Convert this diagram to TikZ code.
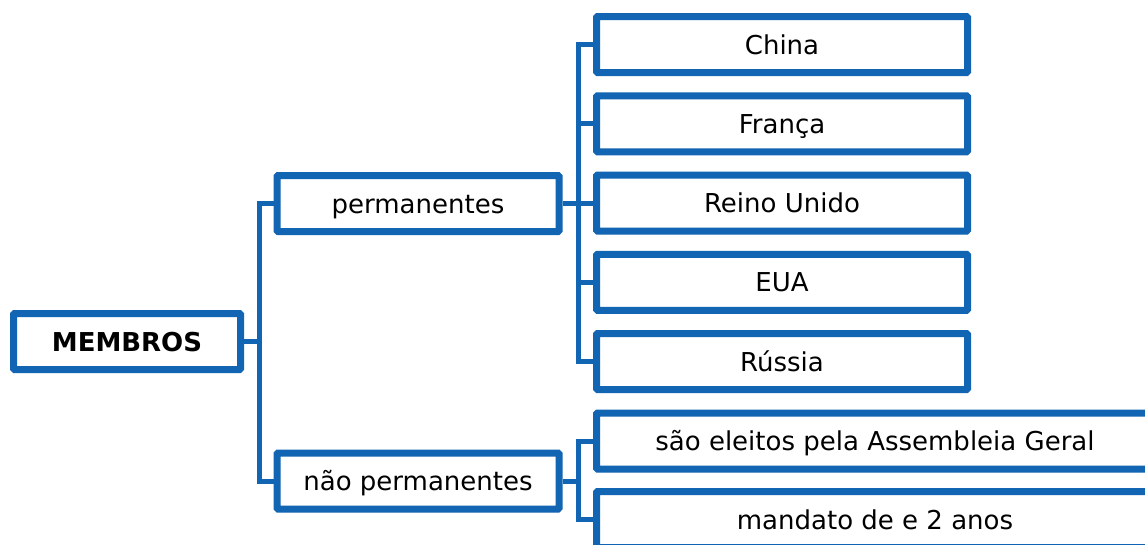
\documentclass[tikz,border=0pt]{standalone}
\usepackage{fontspec}
\setmainfont{DejaVu Sans}
\usetikzlibrary{positioning,shadows}
\definecolor{azul}{RGB}{17,101,178}

\begin{document}
\begin{tikzpicture}[x=1pt, y=-1pt,
	caixa/.style={draw=azul, line width=7pt, fill=white, rounded corners=1pt, inner sep=0pt, minimum height=56pt, text height=19pt, text depth=0pt, font=\fontsize{26}{30}\selectfont, drop shadow={shadow xshift=2pt, shadow yshift=-3pt, opacity=0.45, fill=black!55}},
	liga/.style={draw=azul, line width=5pt}]
	\useasboundingbox (0,0) rectangle (1145,544);
	\clip (0,0) rectangle (1145,544);

	\node[caixa, minimum width=227pt, font=\fontsize{26}{30}\selectfont\bfseries] (membros) at (127,341.5){MEMBROS};

	\node[caixa, minimum width=282pt] (perm) at (418,203.5){permanentes};
	\node[caixa, minimum width=282pt] (naoperm) at (418,481){não permanentes};

	\node[caixa, minimum width=371pt] (china) at (782,44.5){China};
	\node[caixa, minimum width=371pt] (franca) at (782,123.75){França};
	\node[caixa, minimum width=371pt] (reino) at (782,203){Reino Unido};
	\node[caixa, minimum width=371pt] (eua) at (782,282.25){EUA};
	\node[caixa, minimum width=371pt] (russia) at (782,361.5){Rússia};

	\node[caixa, minimum width=557pt] (eleitos) at (875,441){são eleitos pela Assembleia Geral};
	\node[caixa, minimum width=557pt] (mandato) at (875,519.5){mandato de e 2 anos};

	\coordinate (j0) at (259,341.5);
	\coordinate (j1) at (578,203.5);
	\coordinate (j2) at (578,481);

	\draw[liga] (membros.east) -- (j0);
	\draw[liga] (perm.west) -| (j0) |- (naoperm.west);

	\draw[liga] (perm.east) -- (j1);
	\draw[liga] (china.west) -| (j1) |- (russia.west);
	\draw[liga] (franca.west) -- (franca.west -| j1);
	\draw[liga] (reino.west) -- (reino.west -| j1);
	\draw[liga] (eua.west) -- (eua.west -| j1);

	\draw[liga] (naoperm.east) -- (j2);
	\draw[liga] (eleitos.west) -| (j2) |- (mandato.west);
\end{tikzpicture}
\end{document}
